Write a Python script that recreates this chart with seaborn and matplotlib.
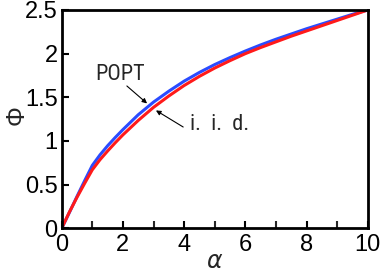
import matplotlib
matplotlib.use("Agg")
import matplotlib.pyplot as plt
import seaborn as sns
import pandas as pd

alpha = [0, 0.25, 0.5, 0.75, 1, 1.25, 1.5, 1.75, 2, 2.5, 3, 3.5, 4, 4.5, 5, 5.5,
         6, 6.5, 7, 7.5, 8, 8.5, 9, 9.5, 10]
phi_popt = [0, 0.18, 0.365, 0.545, 0.72, 0.84, 0.945, 1.04, 1.13, 1.30, 1.445, 1.57, 1.685,
            1.785, 1.875, 1.955, 2.03, 2.10, 2.165, 2.225, 2.285, 2.34, 2.395, 2.45, 2.5]
phi_iid = [0, 0.185, 0.355, 0.515, 0.67, 0.785, 0.885, 0.98, 1.07, 1.235, 1.385, 1.515, 1.635,
           1.74, 1.835, 1.92, 2.0, 2.07, 2.135, 2.2, 2.26, 2.32, 2.38, 2.44, 2.5]

sns.set_style("ticks")
plt.rcParams['font.family'] = ['Liberation Sans', 'DejaVu Sans']

fig = plt.figure(figsize=(3.81, 2.78), dpi=100)
ax = fig.add_axes([61.7/381, 1 - 228.3/278, (367.7-61.7)/381, (228.3-10)/278])

df = pd.DataFrame({"alpha": alpha * 2,
                   "phi": phi_popt + phi_iid,
                   "s": ["POPT"] * len(alpha) + ["i.i.d."] * len(alpha)})
sns.lineplot(data=df, x="alpha", y="phi", hue="s", palette={"POPT": "#2a4bff", "i.i.d.": "#ff1a1a"},
             linewidth=2.2, ax=ax, legend=False, sort=False)

ax.set_xlim(0, 10)
ax.set_ylim(0, 2.5)
ax.set_xticks([0, 2, 4, 6, 8, 10])
ax.set_xticks([1, 3, 5, 7, 9], minor=True)
ax.set_xticklabels(["0", "2", "4", "6", "8", "10"])
ax.set_yticks([0, 0.5, 1, 1.5, 2, 2.5])
ax.set_yticklabels(["0", "0.5", "1", "1.5", "2", "2.5"])
ax.tick_params(axis="both", which="major", direction="in", length=5, width=1.5, labelsize=17, colors="black")
ax.tick_params(axis="x", which="minor", direction="in", length=5, width=1.5)
ax.tick_params(axis="x", pad=4)
ax.tick_params(axis="y", pad=3)
for sp in ax.spines.values():
    sp.set_linewidth(2)
    sp.set_color("black")
    sp.set_visible(True)

ax.set_xlabel(r"$\alpha$", fontsize=17, va="center")
ax.xaxis.set_label_coords(0.5, -0.154)
ax.set_ylabel("Φ", fontsize=18, rotation=90, va="center")
ax.yaxis.set_label_coords(-0.146, 0.52)

cond = ['Roboto Condensed', 'Archivo Narrow', 'DejaVu Sans']
ax.text(1.9, 1.76, "POPT", fontsize=16, family=cond, ha="center", va="center")
ax.text(5.17, 1.19, "i.  i.  d.", fontsize=16, family=cond, ha="center", va="center")
ax.annotate("", xy=(2.79, 1.43), xytext=(2.13, 1.63),
            arrowprops=dict(arrowstyle="-|>", color="black", lw=0.8, mutation_scale=7, shrinkA=0, shrinkB=0))
ax.annotate("", xy=(3.08, 1.35), xytext=(3.97, 1.16),
            arrowprops=dict(arrowstyle="-|>", color="black", lw=0.8, mutation_scale=7, shrinkA=0, shrinkB=0))

fig.savefig("out.png", dpi=100)
